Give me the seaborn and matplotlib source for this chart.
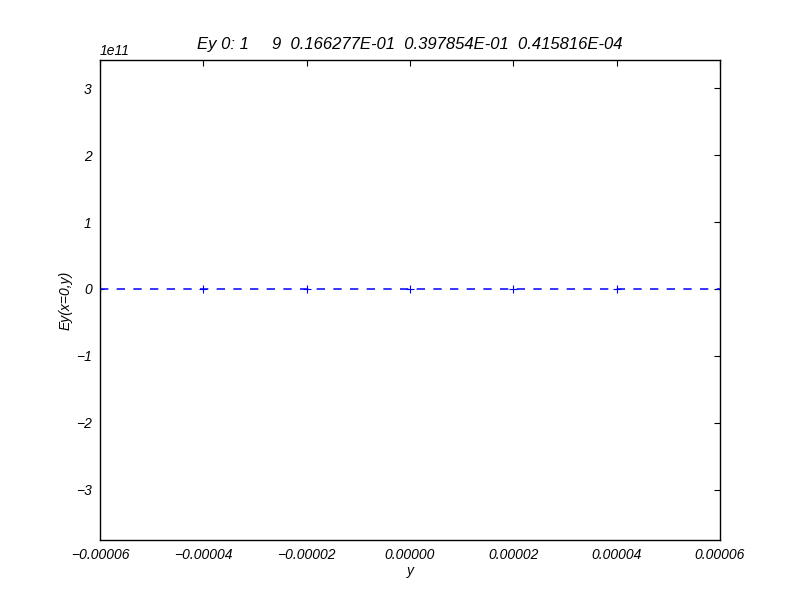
import seaborn as sns
import matplotlib.pyplot as plt
import pandas as pd

# data: Ey is ~0 at every sample point
y_pos = [-6e-5, -4e-5, -2e-5, 0.0, 2e-5, 4e-5, 6e-5]
ey_vals = [0.0, 0.0, 0.0, 0.0, 0.0, 0.0, 0.0]
x_ticks = [-6e-5, -4e-5, -2e-5, 0.0, 2e-5, 4e-5, 6e-5]
y_ticks = [-3e11, -2e11, -1e11, 0.0, 1e11, 2e11, 3e11]
title = "Ey 0: 1     9  0.166277E-01  0.397854E-01  0.415816E-04"

sns.set_style("white")
plt.rcParams["font.family"] = ["Liberation Sans", "DejaVu Sans"]
plt.rcParams["font.style"] = "italic"
plt.rcParams["text.color"] = "black"
plt.rcParams["axes.labelcolor"] = "black"
plt.rcParams["xtick.color"] = "black"
plt.rcParams["ytick.color"] = "black"
plt.rcParams["lines.scale_dashes"] = False

df = pd.DataFrame({"y": y_pos, "Ey": ey_vals})

fig = plt.figure(figsize=(8, 6), dpi=100)
ax = fig.add_axes([0.125, 0.1, 0.775, 0.8])
sns.lineplot(data=df, x="y", y="Ey", ax=ax, color="blue", marker="+",
             markersize=6, markeredgewidth=0.8, markeredgecolor="blue",
             linewidth=1.1)
ax.lines[0].set_dashes((6, 6))

ax.set_xlim(-6e-5, 6e-5)
ax.set_ylim(-3.75e11, 3.42e11)
ax.set_xticks(x_ticks)
ax.set_xticklabels(["\u22120.00006", "\u22120.00004", "\u22120.00002", "0.00000",
                    "0.00002", "0.00004", "0.00006"])
ax.set_yticks(y_ticks)
ax.set_yticklabels(["\u22123", "\u22122", "\u22121", "0", "1", "2", "3"])
ax.text(0.0, 1.005, "1e11", transform=ax.transAxes, fontsize=10, va="bottom", style="italic")

ax.tick_params(direction="in", length=4, width=0.8, top=True, right=True,
               labelsize=10, pad=6, color="black", labelcolor="black")
for s in ax.spines.values():
    s.set_color("black")
    s.set_linewidth(1)

ax.set_title(title, fontsize=12, style="italic", pad=8, color="black")
ax.set_xlabel("y", fontsize=10, style="italic", labelpad=1)
ax.set_ylabel("Ey(x=0,y)", fontsize=10, style="italic", labelpad=2)

fig.savefig("out.png", dpi=100)
